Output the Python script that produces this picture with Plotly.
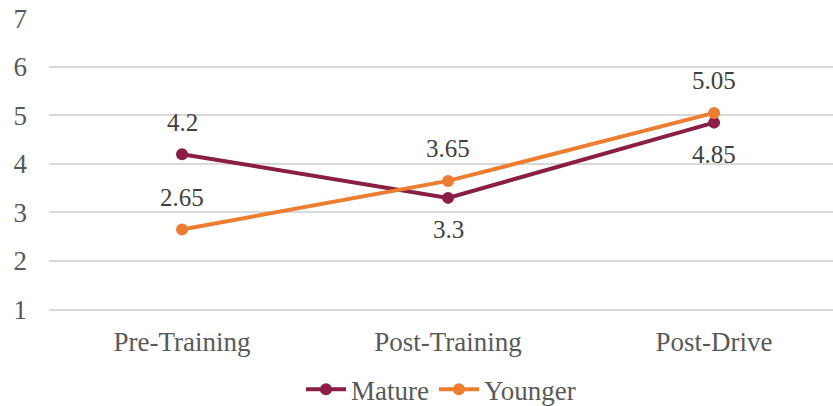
import plotly.graph_objects as go

stages = ["Pre-Training", "Post-Training", "Post-Drive"]
mature = [4.2, 3.3, 4.85]
younger = [2.65, 3.65, 5.05]
y_ticks = [1, 2, 3, 4, 5, 6, 7]

# label placement per point: +1 above the marker, -1 below it
mature_side = [1, -1, -1]
younger_side = [1, 1, 1]

FONT = "Liberation Serif"
TEXT = "#595959"
LABEL = "#404040"
AXIS_SIZE = 27
LABEL_SIZE = 25
MATURE_C = "#8B1E44"
YOUNGER_C = "#ED7D31"

fig = go.Figure()
for name, vals, color in [("Mature", mature, MATURE_C), ("Younger", younger, YOUNGER_C)]:
    fig.add_trace(go.Scatter(
        x=stages, y=vals, name=name, mode="lines+markers",
        line=dict(color=color, width=4), marker=dict(size=12, color=color),
    ))

# value labels next to each marker
for vals, sides in [(mature, mature_side), (younger, younger_side)]:
    for st, v, s in zip(stages, vals, sides):
        fig.add_annotation(
            x=st, y=v, text=str(v), showarrow=False,
            xanchor="center", yanchor="middle", yshift=32 * s,
            font=dict(family=FONT, size=LABEL_SIZE, color=LABEL),
        )

fig.update_layout(
    width=833, height=406,
    margin=dict(l=49, r=0, t=18, b=95, autoexpand=False),
    paper_bgcolor="white", plot_bgcolor="white",
    font=dict(family=FONT, size=AXIS_SIZE, color=TEXT),
    showlegend=True,
    legend=dict(orientation="h", x=0.5, xanchor="center", y=-0.269, yanchor="middle",
                bgcolor="rgba(0,0,0,0)",
                font=dict(family=FONT, size=AXIS_SIZE, color=TEXT), itemwidth=40,
                traceorder="normal"),
    xaxis=dict(range=[-0.5, 2.447], showgrid=False, showline=False, zeroline=False,
               ticks="", ticklabelstandoff=12,
               tickfont=dict(family=FONT, size=AXIS_SIZE, color=TEXT)),
    yaxis=dict(range=[0.97, 7.005], tickvals=y_ticks, showgrid=True, gridcolor="#D9D9D9",
               gridwidth=1.5, zeroline=False, showline=False, ticks="",
               ticklabelstandoff=21,
               tickfont=dict(family=FONT, size=AXIS_SIZE, color=TEXT)),
)

fig.write_html("out.html")
